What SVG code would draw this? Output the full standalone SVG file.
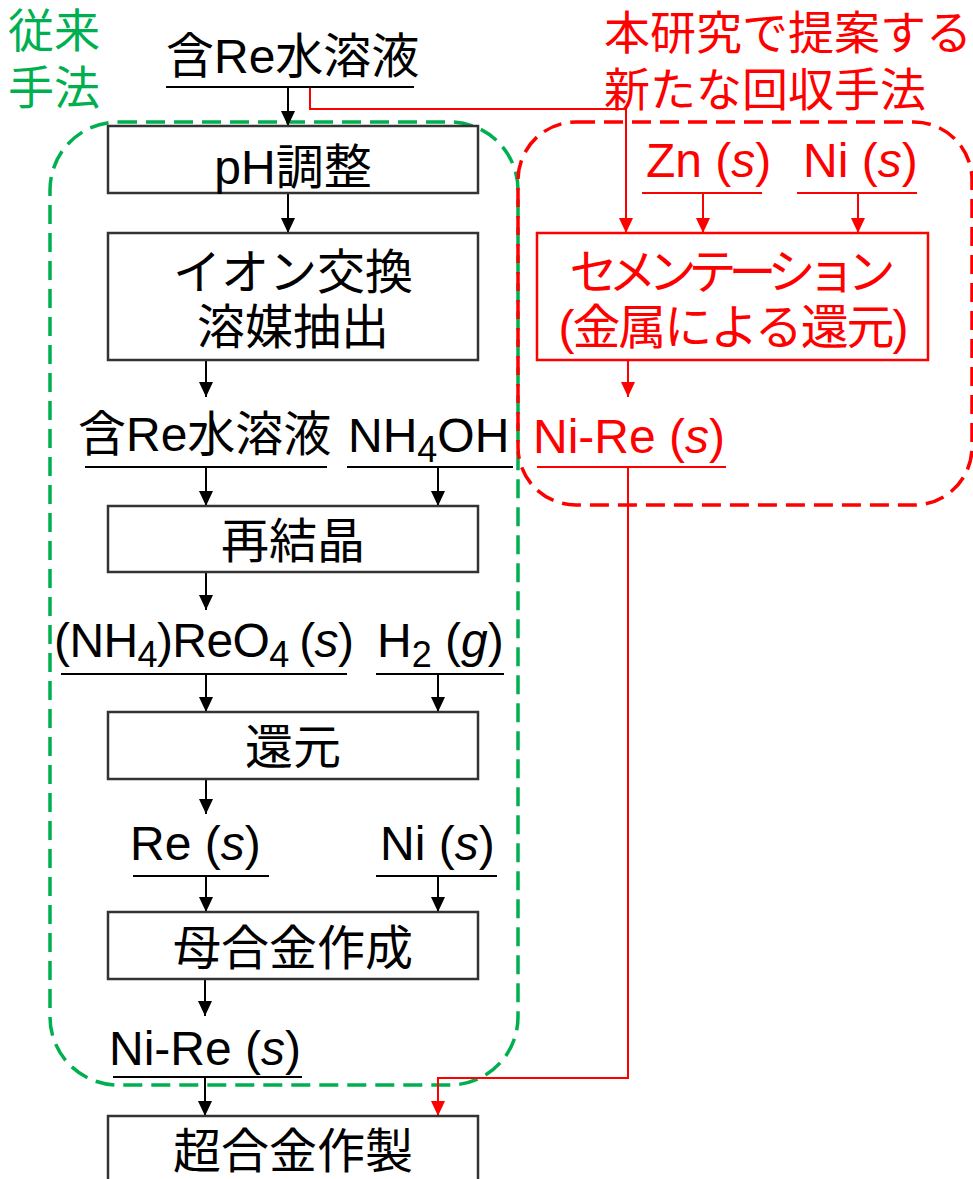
<svg xmlns="http://www.w3.org/2000/svg" width="973" height="1179" viewBox="0 0 973 1179">
<style>
text{font-family:"Liberation Sans","Noto Sans CJK JP",sans-serif;font-size:48px;fill:#000}
.r{fill:#ff0000}
.g{fill:#00b050}
.h{font-size:46px}
.box{fill:#fff;stroke:#333;stroke-width:2.5}
.rbox{fill:#fff;stroke:#ff0000;stroke-width:2.5}
.ul{stroke:#000;stroke-width:2}
.rul{stroke:#ff0000;stroke-width:2}
.c{fill:none;stroke:#000;stroke-width:2}
.rc{fill:none;stroke:#ff0000;stroke-width:2}
.sub{font-size:36px}
.i{font-style:italic}
.m{text-anchor:middle}
</style>
<defs>
<marker id="ab" markerUnits="userSpaceOnUse" viewBox="0 0 15 14" markerWidth="15" markerHeight="14" refX="15" refY="7" orient="auto"><path d="M0,0 L15,7 L0,14 Z" fill="#000"/></marker>
<marker id="ar" markerUnits="userSpaceOnUse" viewBox="0 0 15 14" markerWidth="15" markerHeight="14" refX="15" refY="7" orient="auto"><path d="M0,0 L15,7 L0,14 Z" fill="#ff0000"/></marker>
</defs>
<rect width="973" height="1179" fill="#fff"/>

<g id="group-conventional">
<rect x="50" y="122" width="468" height="963" rx="68" ry="68" fill="none" stroke="#00b050" stroke-width="3.5" stroke-dasharray="19 9"/>
<text class="g h" x="8" y="47">従来</text>
<text class="g h" x="8" y="104">手法</text>
</g>
<g id="group-proposed">
<rect x="518" y="122" width="454" height="383" rx="58" ry="58" fill="none" stroke="#ff0000" stroke-width="3.5" stroke-dasharray="19 9"/>
<text class="r h" x="604" y="49">本研究で提案する</text>
<text class="r h" x="604" y="106">新たな回収手法</text>
</g>

<g id="connectors">
<path class="c" d="M288,87 V126" marker-end="url(#ab)"/>
<path class="c" d="M288,193 V233" marker-end="url(#ab)"/>
<path class="c" d="M206,360 V397" marker-end="url(#ab)"/>
<path class="c" d="M206,467 V506" marker-end="url(#ab)"/>
<path class="c" d="M438,467 V506" marker-end="url(#ab)"/>
<path class="c" d="M206,572 V610" marker-end="url(#ab)"/>
<path class="c" d="M206,674 V712" marker-end="url(#ab)"/>
<path class="c" d="M438,674 V712" marker-end="url(#ab)"/>
<path class="c" d="M206,779 V814" marker-end="url(#ab)"/>
<path class="c" d="M206,876 V912" marker-end="url(#ab)"/>
<path class="c" d="M438,876 V912" marker-end="url(#ab)"/>
<path class="c" d="M205,979 V1016" marker-end="url(#ab)"/>
<path class="c" d="M205,1077 V1116" marker-end="url(#ab)"/>
<path class="rc" d="M310,87 V109 H626 V233" marker-end="url(#ar)"/>
<path class="rc" d="M703,193 V233" marker-end="url(#ar)"/>
<path class="rc" d="M858,193 V233" marker-end="url(#ar)"/>
<path class="rc" d="M628,360 V397" marker-end="url(#ar)"/>
<path class="rc" d="M628,467 V1078 H438 V1116" marker-end="url(#ar)"/>
</g>

<g id="n-re-solution-top">
<text x="166" y="73">含Re水溶液</text>
<line class="ul" x1="166" y1="87" x2="414" y2="87"/>
</g>
<g id="n-ph">
<rect class="box" x="108" y="126" width="370" height="67"/>
<text class="m" x="293" y="184">pH調整</text>
</g>
<g id="n-ion">
<rect class="box" x="108" y="233" width="370" height="127"/>
<text class="m" x="293" y="289">イオン交換</text>
<text class="m" x="293" y="344">溶媒抽出</text>
</g>
<g id="n-re-solution-2">
<text x="78" y="451">含Re水溶液</text>
<line class="ul" x1="85" y1="467" x2="327" y2="467"/>
</g>
<g id="n-nh4oh">
<text x="348" y="452">NH<tspan class="sub" dy="10">4</tspan><tspan dy="-10">OH</tspan></text>
<line class="ul" x1="347" y1="467" x2="513" y2="467"/>
</g>
<g id="n-recryst">
<rect class="box" x="108" y="506" width="370" height="66"/>
<text class="m" x="293" y="558">再結晶</text>
</g>
<g id="n-apr">
<text x="54" y="657" textLength="300">(NH<tspan class="sub" dy="10">4</tspan><tspan dy="-10">)ReO</tspan><tspan class="sub" dy="10">4</tspan><tspan dy="-10" font-size="40"> </tspan><tspan>(</tspan><tspan class="i">s</tspan>)</text>
<line class="ul" x1="61" y1="674" x2="347" y2="674"/>
</g>
<g id="n-h2">
<text x="377" y="657">H<tspan class="sub" dy="10">2</tspan><tspan dy="-10"> (</tspan><tspan class="i">g</tspan>)</text>
<line class="ul" x1="376" y1="674" x2="504" y2="674"/>
</g>
<g id="n-reduction">
<rect class="box" x="108" y="712" width="370" height="67"/>
<text class="m" x="293" y="764">還元</text>
</g>
<g id="n-re-s">
<text x="130" y="860">Re (<tspan class="i">s</tspan>)</text>
<line class="ul" x1="133" y1="876" x2="269" y2="876"/>
</g>
<g id="n-ni-s">
<text x="380" y="860">Ni (<tspan class="i">s</tspan>)</text>
<line class="ul" x1="376" y1="876" x2="497" y2="876"/>
</g>
<g id="n-master">
<rect class="box" x="108" y="912" width="370" height="67"/>
<text class="m" x="293" y="965">母合金作成</text>
</g>
<g id="n-nire-black">
<text x="109" y="1065">Ni-Re (<tspan class="i">s</tspan>)</text>
<line class="ul" x1="113" y1="1077" x2="302" y2="1077"/>
</g>
<g id="n-superalloy">
<rect class="box" x="108" y="1116" width="370" height="70"/>
<text class="m" x="293" y="1168">超合金作製</text>
</g>

<g id="n-zn">
<text class="r" x="646" y="177">Zn (<tspan class="i">s</tspan>)</text>
<line class="rul" x1="642" y1="193" x2="762" y2="193"/>
</g>
<g id="n-ni-red">
<text class="r" x="803" y="177">Ni (<tspan class="i">s</tspan>)</text>
<line class="rul" x1="797" y1="193" x2="917" y2="193"/>
</g>
<g id="n-cementation">
<rect class="rbox" x="537" y="233" width="391" height="127"/>
<text class="r m" x="732.5" y="289" textLength="326">セメンテーション</text>
<text class="r m" x="733.5" y="344" textLength="350">(金属による還元)</text>
</g>
<g id="n-nire-red">
<text class="r" x="533" y="453">Ni-Re (<tspan class="i">s</tspan>)</text>
<line class="rul" x1="537" y1="467" x2="726" y2="467"/>
</g>
</svg>
